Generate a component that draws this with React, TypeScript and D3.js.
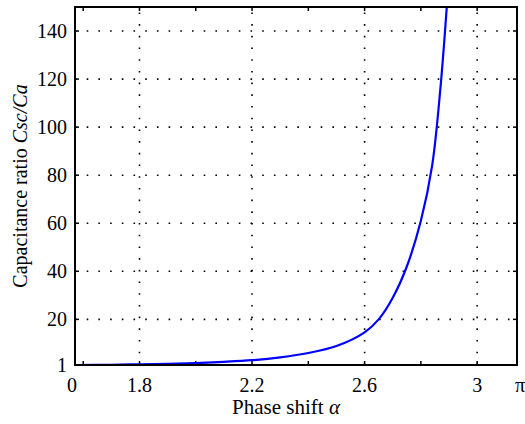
import * as d3 from 'd3';

// phase shift (rad) vs capacitance ratio
const alpha = [1.5708, 1.7, 1.8, 1.9, 2.0, 2.1, 2.2, 2.3, 2.4, 2.5, 2.6, 2.65, 2.7, 2.75, 2.8, 2.84, 2.87, 2.892];
const ratio = [1, 1.1, 1.3, 1.5, 1.8, 2.3, 3.0, 4.2, 6.0, 8.9, 14.6, 20.0, 29, 42, 61, 84, 117, 150];

const xTicks = [1.6, 1.8, 2.0, 2.2, 2.4, 2.6, 2.8, 3.0];
const xTickLabels = ['', '1.8', '', '2.2', '', '2.6', '', '3'];
const xGrid = [1.8, 2.2, 2.6, 3.0];
const xEdgeLabels = ['0', 'π'];

const yTicks = [1, 20, 40, 60, 80, 100, 120, 140];
const yGrid = [20, 40, 60, 80, 100, 120, 140];

const W = 525;
const H = 424;
const m = { left: 75, right: 8, top: 7, bottom: 59 };
const font = 'Liberation Serif, Times New Roman, serif';

export default function App() {
  const x = d3.scaleLinear().domain([Math.PI / 2, Math.PI]).range([m.left, W - m.right]);
  const y = d3.scaleLinear().domain([1, 150]).range([H - m.bottom, m.top]);

  const pts = alpha.map((a, i) => [a, ratio[i]] as [number, number]);
  const line = d3.line<[number, number]>()
    .x((d) => x(d[0]))
    .y((d) => y(d[1]))
    .curve(d3.curveCatmullRom.alpha(0.5));

  const [x0, x1] = x.range();
  const [y0, y1] = y.range();

  return (
    <svg width={W} height={H} style={{ position: 'absolute', left: 0, top: 0, background: '#fff' }}>
      <defs>
        <clipPath id="plot">
          <rect x={x0} y={y1} width={x1 - x0} height={y0 - y1} />
        </clipPath>
      </defs>
      <rect width={W} height={H} fill="#fff" />

      {/* dotted grid */}
      {yGrid.map((v) => (
        <line key={'gy' + v} x1={x0} x2={x1} y1={y(v)} y2={y(v)}
          stroke="#000" strokeWidth={1.6} strokeDasharray="1.6,10.1" />
      ))}
      {xGrid.map((v) => (
        <line key={'gx' + v} x1={x(v)} x2={x(v)} y1={y0} y2={y1}
          stroke="#000" strokeWidth={1.6} strokeDasharray="1.6,10.1" />
      ))}

      {/* inward tick marks */}
      {xTicks.map((v) => (
        <g key={'tx' + v}>
          <line x1={x(v)} x2={x(v)} y1={y0} y2={y0 - 4} stroke="#000" strokeWidth={1.5} />
          <line x1={x(v)} x2={x(v)} y1={y1} y2={y1 + 4} stroke="#000" strokeWidth={1.5} />
        </g>
      ))}
      {yTicks.map((v) => (
        <g key={'ty' + v}>
          <line x1={x0} x2={x0 + 4} y1={y(v)} y2={y(v)} stroke="#000" strokeWidth={1.5} />
          <line x1={x1} x2={x1 - 4} y1={y(v)} y2={y(v)} stroke="#000" strokeWidth={1.5} />
        </g>
      ))}

      <path d={line(pts) ?? ''} fill="none" stroke="#0000ff" strokeWidth={2.2} clipPath="url(#plot)" />

      <rect x={x0} y={y1} width={x1 - x0} height={y0 - y1} fill="none" stroke="#000" strokeWidth={2} />

      {/* tick labels */}
      <g fontFamily={font} fontSize="20" fill="#000">
        {xTicks.map((v, i) => (
          <text key={'lx' + v} x={x(v)} y={y0 + 27} textAnchor="middle">{xTickLabels[i]}</text>
        ))}
        <text x={x0 - 3} y={y0 + 27} textAnchor="middle">{xEdgeLabels[0]}</text>
        <text x={x1 + 3} y={y0 + 27} textAnchor="middle">{xEdgeLabels[1]}</text>
        {yTicks.map((v) => (
          <text key={'ly' + v} x={x0 - 8} y={y(v)} dy="0.35em" textAnchor="end">{v}</text>
        ))}
      </g>

      {/* axis titles */}
      <text x={286} y={H - 10} fontFamily={font} fontSize="21" textAnchor="middle">
        Phase shift <tspan fontStyle="italic">α</tspan>
      </text>
      <text transform={`translate(27,${(y0 + y1) / 2}) rotate(-90)`} fontFamily={font} fontSize="20" textAnchor="middle">
        Capacitance ratio <tspan fontStyle="italic">Csc/Ca</tspan>
      </text>
    </svg>
  );
}
